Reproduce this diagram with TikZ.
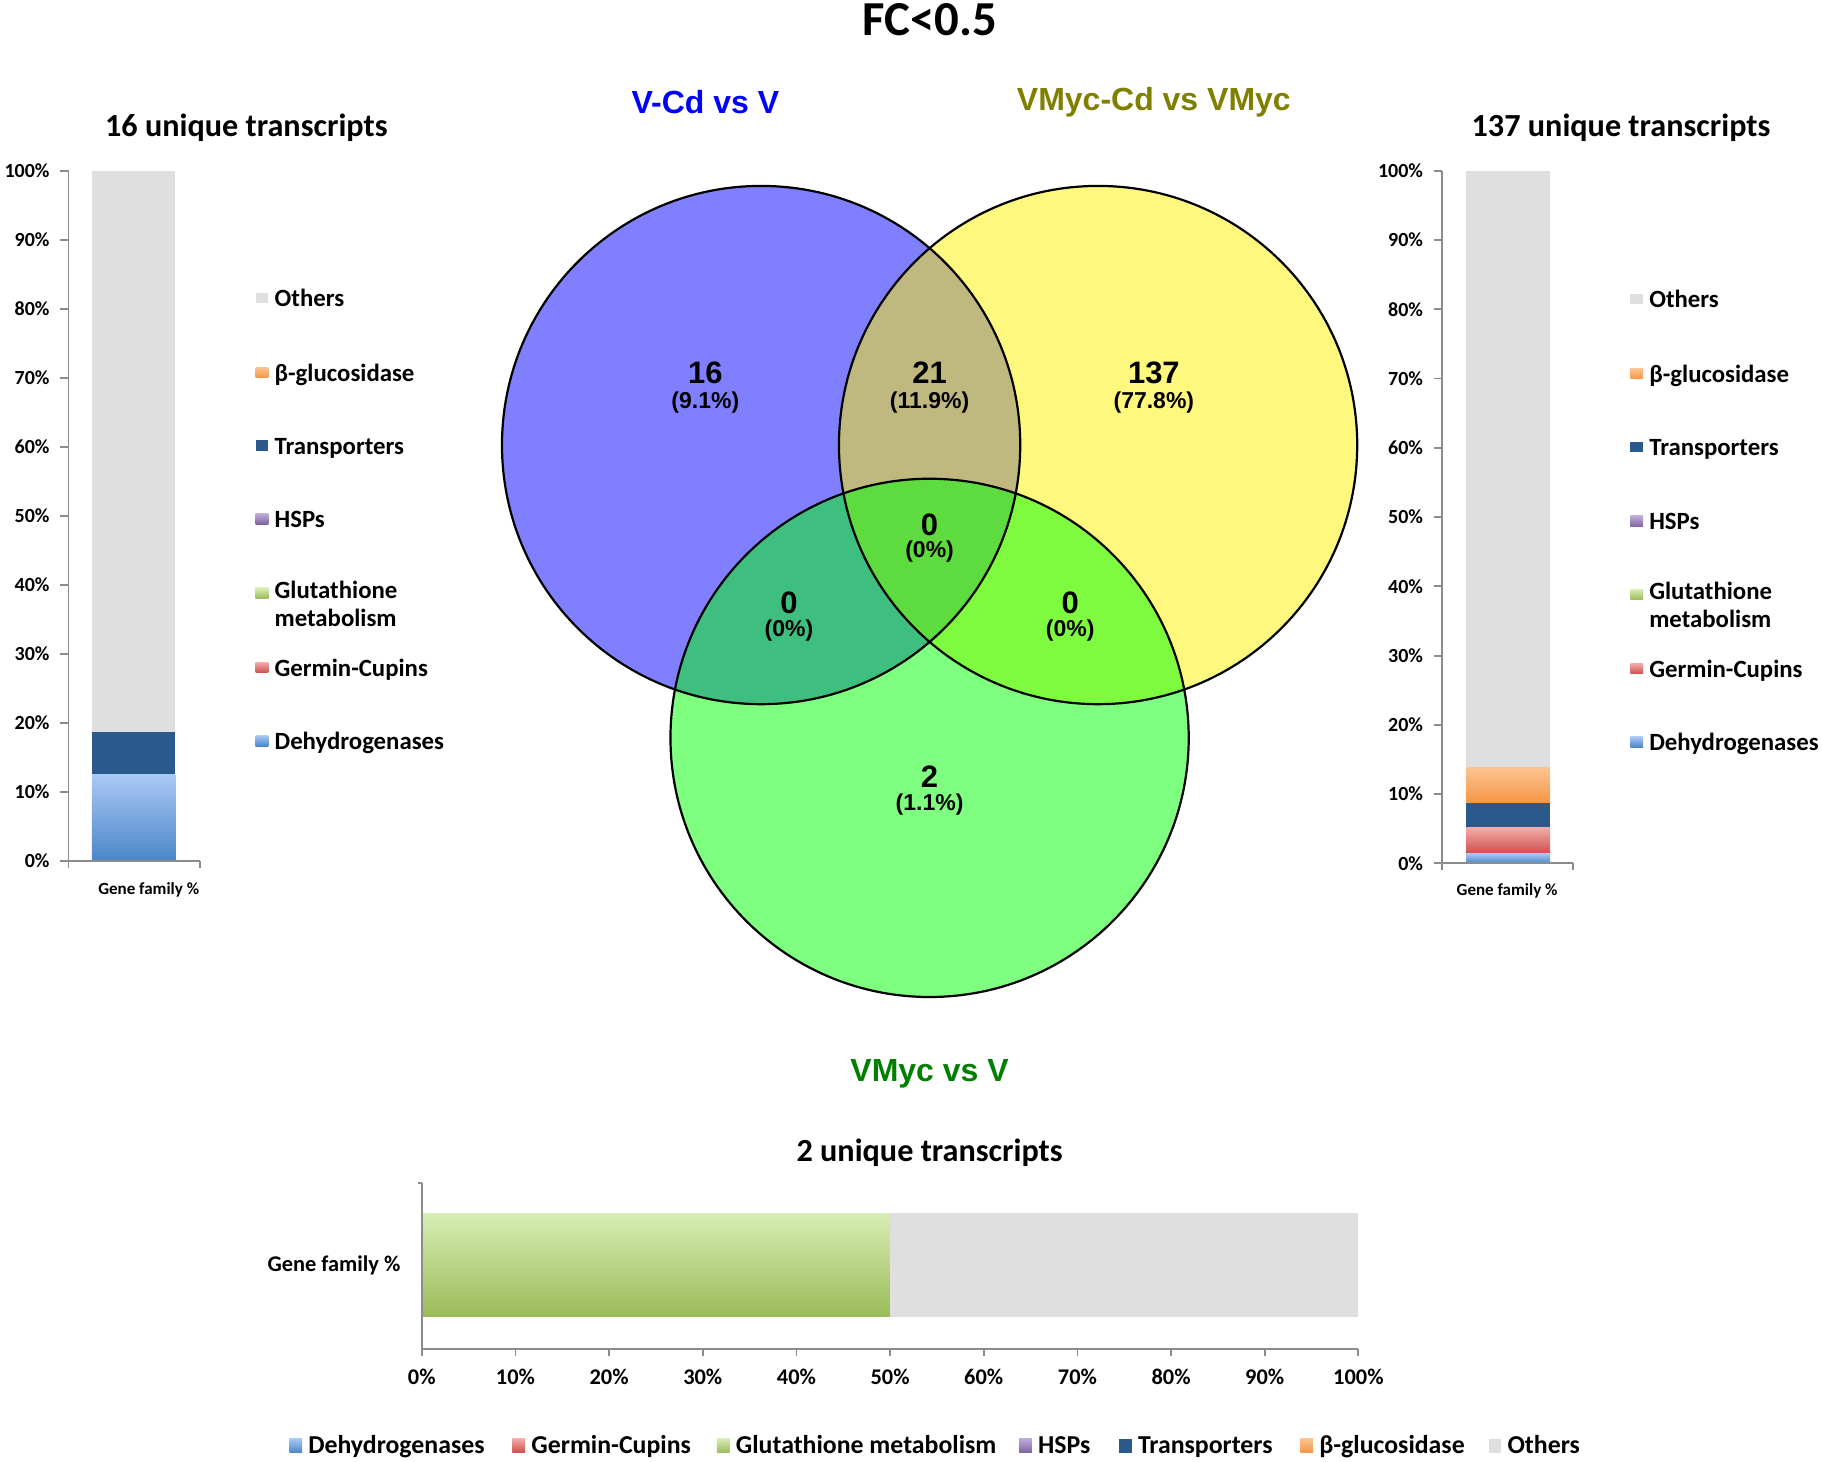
\documentclass[tikz,border=0pt]{standalone}
\usepackage{fontspec}
\newfontfamily\calfont{Carlito}
\newfontfamily\helvfont{Liberation Sans}
\definecolor{othersgrey}{RGB}{223,223,223}
\definecolor{transblue}{RGB}{42,90,140}
\definecolor{dehydlight}{RGB}{170,200,245}
\definecolor{dehyddark}{RGB}{74,134,200}
\definecolor{orangelight}{RGB}{252,196,145}
\definecolor{orangedark}{RGB}{245,150,70}
\definecolor{redlight}{RGB}{243,170,168}
\definecolor{reddark}{RGB}{205,80,77}
\definecolor{greenlight}{RGB}{215,238,180}
\definecolor{greendark}{RGB}{155,187,89}
\definecolor{purplelight}{RGB}{190,172,215}
\definecolor{purpledark}{RGB}{128,100,162}
\definecolor{axisgrey}{RGB}{140,140,140}
\definecolor{olivetxt}{RGB}{128,128,0}
\definecolor{greentxt}{RGB}{0,128,0}
\begin{document}
\begin{tikzpicture}[x=0.581pt,y=-0.581pt,
  charttitle/.style={font=\calfont\bfseries\fontsize{16.1}{19}\selectfont},
  ticklab/.style={font=\calfont\bfseries\fontsize{10}{12}\selectfont},
  btick/.style={font=\calfont\bfseries\fontsize{11.2}{13}\selectfont},
  leglab/.style={font=\calfont\bfseries\fontsize{12.4}{14}\selectfont, align=left, inner sep=0pt},
  bleglab/.style={font=\calfont\bfseries\fontsize{12.9}{15}\selectfont, inner sep=0pt},
  famlab/.style={font=\calfont\bfseries\fontsize{8.5}{10}\selectfont},
  axisline/.style={draw=axisgrey, line width=0.9pt},
  setlab/.style={font=\helvfont\bfseries\fontsize{16}{19}\selectfont},
  numlab/.style={font=\helvfont\bfseries\fontsize{15.5}{18}\selectfont, inner sep=0pt},
  pctlab/.style={font=\helvfont\bfseries\fontsize{11.5}{14}\selectfont, inner sep=0pt},
  otherfill/.style={fill=othersgrey},
  transfill/.style={fill=transblue},
  dehydfill/.style={top color=dehydlight, bottom color=dehyddark},
  orangefill/.style={top color=orangelight, bottom color=orangedark},
  redfill/.style={top color=redlight, bottom color=reddark},
  greenfill/.style={top color=greenlight, bottom color=greendark},
  purplefill/.style={top color=purplelight, bottom color=purpledark},
  vennline/.style={draw=black, line width=1.1pt}
]
\useasboundingbox (0,0) rectangle (1568,1258);

% ---------- title ----------
\node[font=\calfont\bfseries\fontsize{24.4}{29}\selectfont] (title) at (800,17) {FC<0.5};

% ---------- Venn ----------
\fill[blue, fill opacity=0.5] (655,383) circle (223);
\fill[yellow, fill opacity=0.5] (945,383) circle (223);
\fill[green, fill opacity=0.5] (800,635) circle (223);
\draw[vennline] (655,383) circle (223);
\draw[vennline] (945,383) circle (223);
\draw[vennline] (800,635) circle (223);

\node[setlab, text=blue] (setA) at (607,88) {V-Cd vs V};
\node[setlab, text=olivetxt] (setB) at (993,88) {VMyc-Cd vs VMyc};
\node[setlab, text=greentxt] (setC) at (800,924) {VMyc vs V};

\node[numlab] (nA) at (607,321) {16};
\node[pctlab] (pA) at (607,346) {(9.1\%)};
\node[numlab] (nAB) at (800,321) {21};
\node[pctlab] (pAB) at (800,346) {(11.9\%)};
\node[numlab] (nB) at (993,321) {137};
\node[pctlab] (pB) at (993,346) {(77.8\%)};
\node[numlab] (nABC) at (800,452) {0};
\node[pctlab] (pABC) at (800,475) {(0\%)};
\node[numlab] (nAC) at (679,519) {0};
\node[pctlab] (pAC) at (679,543) {(0\%)};
\node[numlab] (nBC) at (921,519) {0};
\node[pctlab] (pBC) at (921,543) {(0\%)};
\node[numlab] (nC) at (800,668) {2};
\node[pctlab] (pC) at (800,692) {(1.1\%)};

% ---------- left chart ----------
\node[charttitle] (ltitle) at (212,110) {16 unique transcripts};
\path[otherfill] (79,{741-59.4*10}) rectangle (151,{741-59.4*1.875});
\path[transfill] (79,{741-59.4*1.875}) rectangle (151,{741-59.4*1.25});
\path[dehydfill] (79,{741-59.4*1.25}) rectangle (151,741);
\draw[axisline] (59,147) -- (59,741) -- (172,741);
\draw[axisline] (59,741) -- (59,747);
\draw[axisline] (172,741) -- (172,747);
\foreach \i in {0,...,10} {
  \pgfmathtruncatemacro\pc{\i*10}
  \draw[axisline] (52,{741-59.4*\i}) -- (59,{741-59.4*\i});
  \node[ticklab, anchor=east, inner sep=0pt] (lt\i) at (43,{741-59.4*\i}) {\pc\%};
}
\node[famlab] (lfam) at (128,766) {Gene family \%};

\foreach \lab/\yy/\sty/\nm in {Others/257/otherfill/a, β-glucosidase/321/orangefill/b, Transporters/384/transfill/c, HSPs/447/purplefill/d, Germin-Cupins/575/redfill/f, Dehydrogenases/638/dehydfill/g} {
  \path[\sty] (220,{\yy-5}) rectangle (231,{\yy+4});
  \node[leglab, anchor=base west] (ll\nm) at (236,{\yy+7}) {\lab};
}
\path[greenfill] (220,506) rectangle (231,515);
\node[leglab, anchor=north west] (lle) at (236,500) {Glutathione\\metabolism};

% ---------- right chart ----------
\node[charttitle] (rtitle) at (1395,110) {137 unique transcripts};
\path[otherfill] (1262,{743-59.6*10}) rectangle (1334,{743-59.6*1.387});
\path[orangefill] (1262,{743-59.6*1.387}) rectangle (1334,{743-59.6*0.876});
\path[transfill] (1262,{743-59.6*0.876}) rectangle (1334,{743-59.6*0.511});
\path[redfill] (1262,{743-59.6*0.511}) rectangle (1334,{743-59.6*0.146});
\path[dehydfill] (1262,{743-59.6*0.146}) rectangle (1334,743);
\draw[axisline] (1241,147) -- (1241,743) -- (1354,743);
\draw[axisline] (1241,743) -- (1241,749);
\draw[axisline] (1354,743) -- (1354,749);
\foreach \i in {0,...,10} {
  \pgfmathtruncatemacro\pc{\i*10}
  \draw[axisline] (1234,{743-59.6*\i}) -- (1241,{743-59.6*\i});
  \node[ticklab, anchor=east, inner sep=0pt] (rt\i) at (1225,{743-59.6*\i}) {\pc\%};
}
\node[famlab] (rfam) at (1297,767) {Gene family \%};

\foreach \lab/\yy/\sty/\nm in {Others/258/otherfill/a, β-glucosidase/322/orangefill/b, Transporters/385/transfill/c, HSPs/449/purplefill/d, Germin-Cupins/576/redfill/f, Dehydrogenases/639/dehydfill/g} {
  \path[\sty] (1403,{\yy-5}) rectangle (1414,{\yy+4});
  \node[leglab, anchor=base west] (rl\nm) at (1419,{\yy+7}) {\lab};
}
\path[greenfill] (1403,507) rectangle (1414,516);
\node[leglab, anchor=north west] (rle) at (1419,501) {Glutathione\\metabolism};

% ---------- bottom chart ----------
\node[charttitle] (btitle) at (800,992) {2 unique transcripts};
\path[greenfill] (363,1044) rectangle (766,1133);
\path[otherfill] (766,1044) rectangle (1169,1133);
\draw[axisline] (363,1018) -- (363,1161) -- (1169,1161);
\draw[axisline] (360,1018) -- (363,1018);
\foreach \i in {0,...,10} {
  \pgfmathtruncatemacro\pc{\i*10}
  \draw[axisline] ({363+80.6*\i},1161) -- ({363+80.6*\i},1167);
  \node[btick] (bt\i) at ({363+80.6*\i},1185) {\pc\%};
}
\node[btick, anchor=east, inner sep=0pt] (bfam) at (345,1089) {Gene family \%};

\foreach \lab/\xx/\sty/\nm in {Dehydrogenases/249/dehydfill/a, Germin-Cupins/441/redfill/b, Glutathione metabolism/617/greenfill/c, HSPs/877/purplefill/d, Transporters/963/transfill/e, β-glucosidase/1119/orangefill/f, Others/1281/otherfill/g} {
  \path[\sty] (\xx,1238) rectangle ({\xx+11},1250);
  \node[bleglab, anchor=base west] (bl\nm) at ({\xx+16},1251) {\lab};
}
\end{tikzpicture}
\end{document}
